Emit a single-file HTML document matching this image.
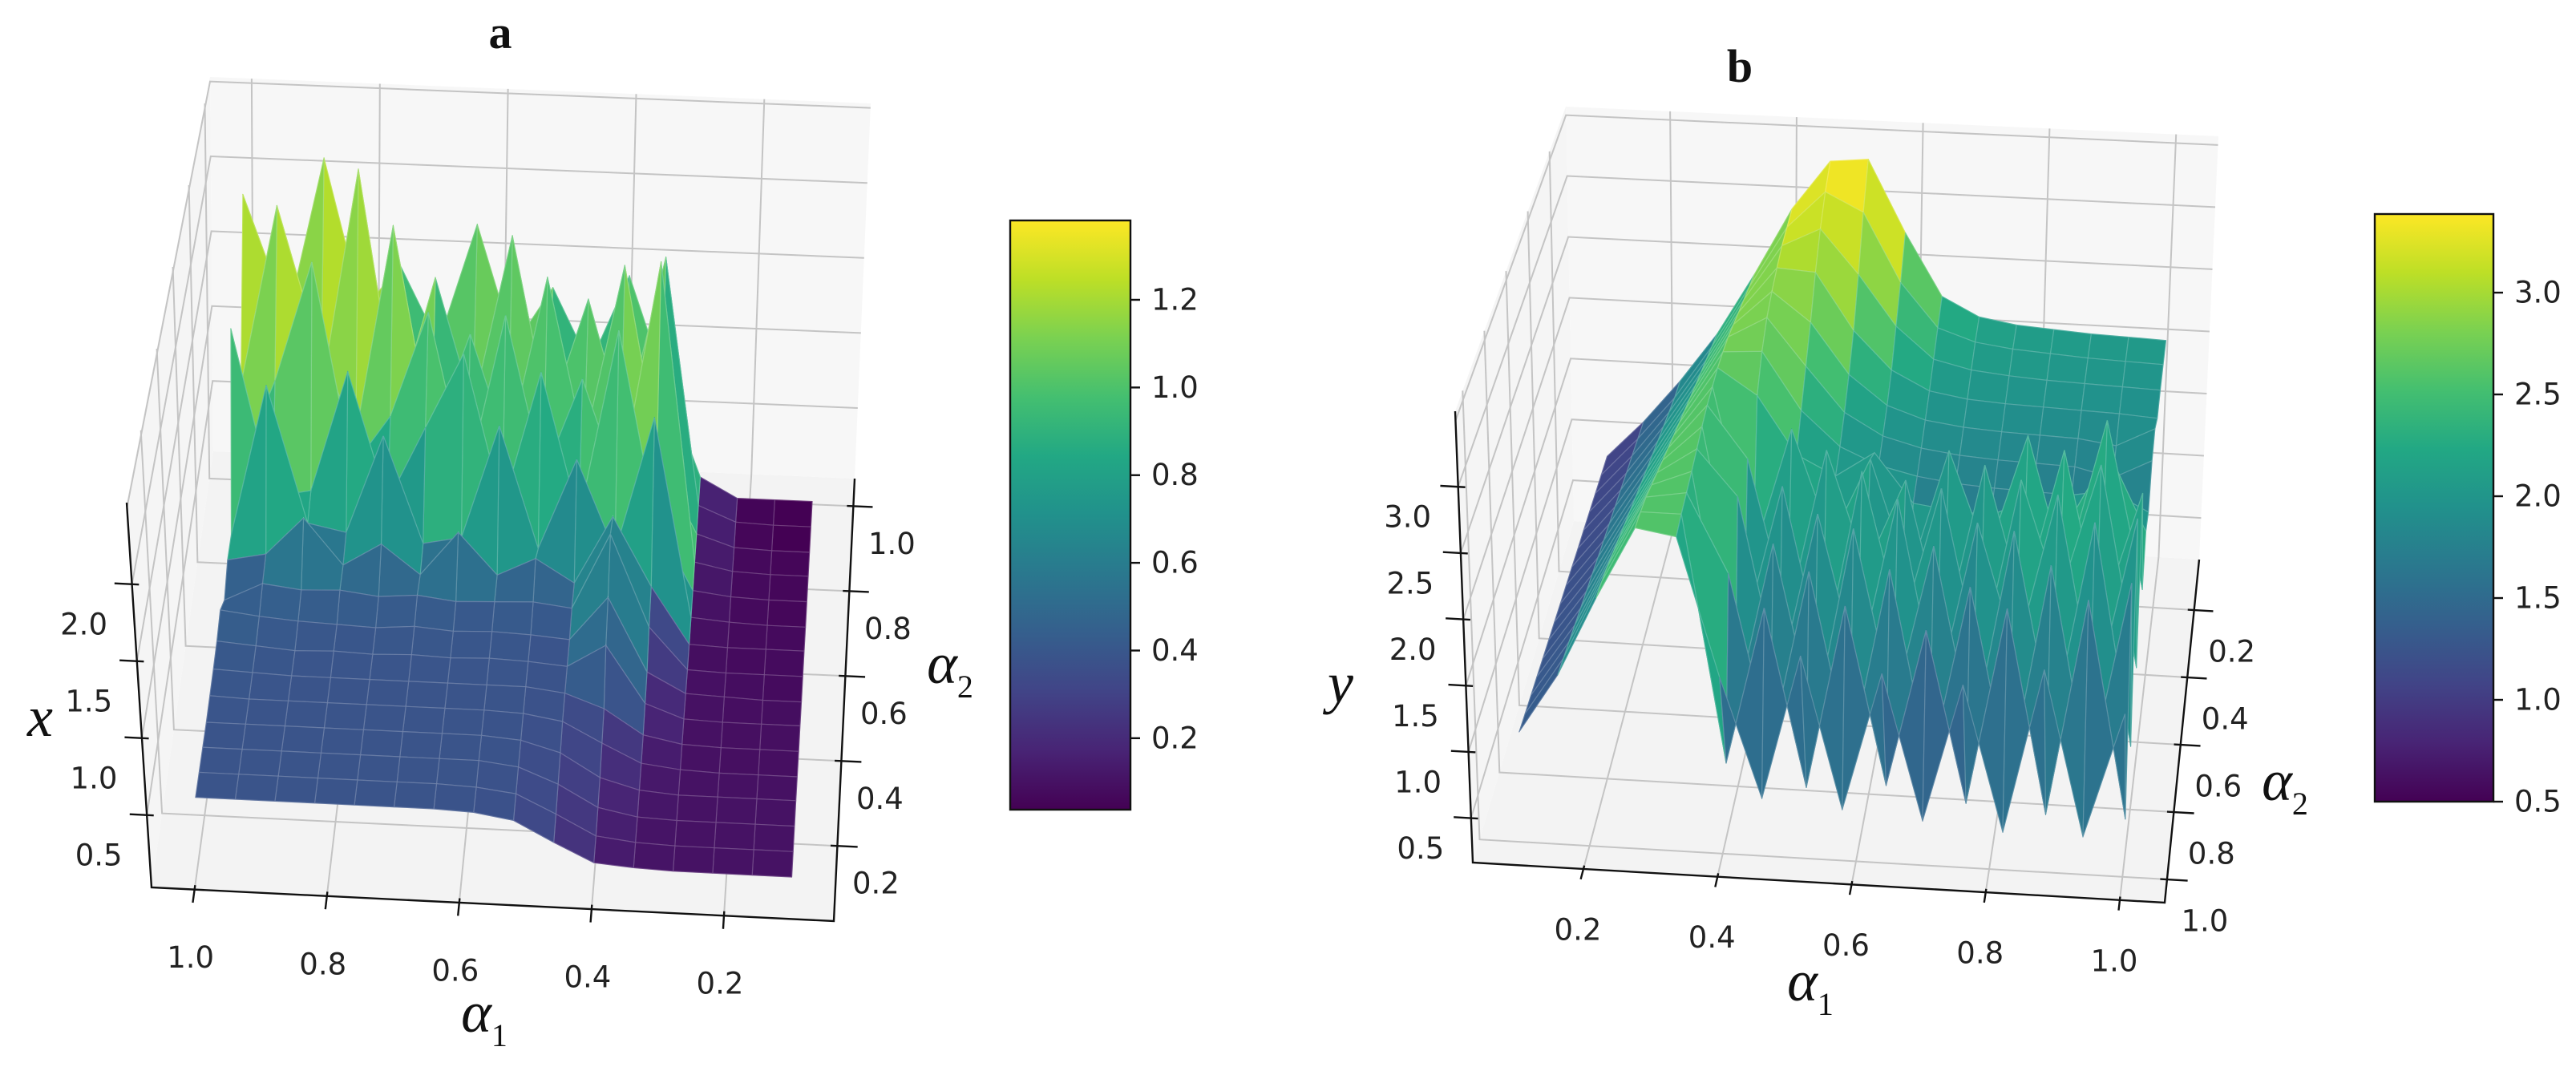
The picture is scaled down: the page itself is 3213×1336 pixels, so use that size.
<!DOCTYPE html>
<html><head><meta charset="utf-8"><style>
html,body{margin:0;padding:0;background:#fff;}
svg{display:block;}
text{font-family:"DejaVu Sans","Liberation Sans",sans-serif;}
.tk{font-size:37px;fill:#222;}
.lab{font-family:"Liberation Serif",serif;font-style:italic;fill:#111;}
.ttl{font-family:"Liberation Serif",serif;font-weight:bold;font-size:58px;fill:#111;}
</style></head><body>
<svg id="fig" width="3213" height="1336" viewBox="0 0 3213 1336" xmlns="http://www.w3.org/2000/svg">
<defs>
<linearGradient id="vir" x1="0" y1="1" x2="0" y2="0">
<stop offset="0" stop-color="#440154"/><stop offset="0.1" stop-color="#482475"/><stop offset="0.2" stop-color="#414487"/><stop offset="0.3" stop-color="#355f8d"/><stop offset="0.4" stop-color="#2a788e"/><stop offset="0.5" stop-color="#21918c"/><stop offset="0.6" stop-color="#22a884"/><stop offset="0.7" stop-color="#44bf70"/><stop offset="0.8" stop-color="#7ad151"/><stop offset="0.9" stop-color="#bddf26"/><stop offset="1" stop-color="#fde725"/>
</linearGradient>
</defs>
<g id="panelA"></g>
<g id="panelB"></g>
<text class="ttl" x="624" y="60" text-anchor="middle">a</text>
<text class="ttl" x="2170" y="102" text-anchor="middle">b</text>
</svg>
<script>
// ---------- data: panel a ----------
const alpha1GridA = [0.10,0.16,0.22,0.28,0.34,0.40,0.46,0.52,0.58,0.64,0.70,0.76,0.82,0.88,0.94,1.00];
const alpha2GridA = [0.10,0.16,0.22,0.28,0.34,0.40,0.46,0.52,0.58,0.64,0.70,0.76,0.82,0.88,0.94,1.00];
const surfaceA = [
[0.09,0.09,0.09,0.09,0.10,0.12,0.24,0.37,0.41,0.42,0.42,0.42,0.42,0.42,0.42,0.42],
[0.09,0.09,0.09,0.09,0.10,0.13,0.26,0.38,0.41,0.42,0.42,0.42,0.42,0.42,0.42,0.42],
[0.09,0.09,0.09,0.09,0.10,0.15,0.29,0.39,0.42,0.42,0.42,0.42,0.42,0.42,0.42,0.42],
[0.09,0.09,0.09,0.09,0.11,0.18,0.33,0.40,0.42,0.42,0.42,0.42,0.42,0.42,0.42,0.42],
[0.08,0.08,0.08,0.09,0.12,0.24,0.37,0.41,0.42,0.42,0.42,0.42,0.42,0.42,0.42,0.43],
[0.08,0.08,0.08,0.09,0.14,0.30,0.39,0.42,0.42,0.42,0.42,0.42,0.42,0.42,0.43,0.44],
[0.08,0.08,0.08,0.09,0.18,0.55,0.40,0.42,0.43,0.42,0.43,0.42,0.43,0.42,0.44,0.46],
[0.07,0.07,0.08,0.09,0.22,0.70,0.41,0.43,0.44,0.43,0.45,0.43,0.44,0.45,0.47,0.50],
[0.07,0.07,0.07,0.08,0.35,0.95,0.45,0.48,0.47,0.46,0.49,0.47,0.50,0.49,0.52,0.40],
[0.07,0.07,0.07,0.08,0.45,0.90,0.45,0.60,0.48,0.75,0.46,0.65,0.50,0.80,0.55,0.50],
[0.06,0.06,0.07,0.09,1.40,0.50,1.10,0.50,1.30,0.55,0.50,1.20,0.55,0.60,1.50,0.50],
[0.06,0.06,0.07,0.10,0.55,1.80,0.55,1.50,0.60,1.60,1.10,0.60,1.45,0.65,0.60,1.70],
[0.06,0.06,0.07,0.12,2.10,0.60,1.30,0.65,1.70,0.60,1.70,1.00,0.65,2.00,1.20,0.60],
[0.05,0.05,0.06,0.14,0.60,1.90,0.70,1.80,0.65,1.40,0.70,2.10,0.70,1.30,2.20,1.00],
[0.05,0.05,0.06,0.16,1.80,0.65,1.50,0.70,1.90,0.75,1.60,0.70,2.30,0.80,1.40,2.10],
[0.05,0.05,0.05,0.18,0.80,1.50,0.90,1.40,1.00,1.80,1.00,1.50,1.20,2.20,1.10,1.60]];
const alpha1TicksA = [1.0,0.8,0.6,0.4,0.2];
const alpha1LabelsA = ["1.0","0.8","0.6","0.4","0.2"];
const alpha2TicksA = [0.2,0.4,0.6,0.8,1.0];
const alpha2LabelsA = ["0.2","0.4","0.6","0.8","1.0"];
const zTicksA = [0.5,1.0,1.5,2.0,2.5];
const zLabelsA = ["0.5","1.0","1.5","2.0",""];
const cbarTicksA = [0.2,0.4,0.6,0.8,1.0,1.2];
const cbarLabelsA = ["0.2","0.4","0.6","0.8","1.0","1.2"];

// ---------- data: panel b ----------
const alpha1GridB = [0.10,0.16,0.22,0.28,0.34,0.40,0.46,0.52,0.58,0.64,0.70,0.76,0.82,0.88,0.94,1.00];
const alpha2GridB = [0.10,0.16,0.22,0.28,0.34,0.40,0.46,0.52,0.58,0.64,0.70,0.76,0.82,0.88,0.94,1.00];
const surfaceB = [
[0.85,1.15,1.50,1.90,2.40,2.95,3.35,3.38,2.80,2.30,2.15,2.10,2.08,2.06,2.05,2.04],
[0.86,1.17,1.52,1.95,2.45,2.95,3.25,3.10,2.55,2.20,2.10,2.06,2.04,2.02,2.01,2.00],
[0.87,1.19,1.56,2.00,2.50,2.95,3.10,2.75,2.35,2.10,2.03,2.00,1.98,1.97,1.96,1.95],
[0.88,1.21,1.60,2.05,2.55,2.92,2.90,2.45,2.15,2.00,1.95,1.93,1.92,1.91,1.90,1.88],
[0.89,1.23,1.64,2.10,2.60,2.88,2.65,2.25,2.02,1.92,1.88,1.86,1.85,1.84,1.80,1.95],
[0.90,1.25,1.68,2.15,2.65,2.82,2.45,2.10,1.93,1.85,1.81,1.79,1.78,1.77,1.70,1.85],
[0.91,1.27,1.72,2.20,2.68,2.70,2.25,1.98,1.85,1.78,1.74,1.72,1.71,1.70,1.75,1.60],
[0.92,1.29,1.76,2.25,2.70,2.50,2.05,1.90,2.10,1.72,1.68,1.66,1.80,1.64,2.20,1.60],
[0.93,1.31,1.80,2.30,2.70,1.40,2.40,1.55,2.20,1.30,2.30,1.50,2.45,1.40,2.60,1.30],
[0.94,1.33,1.84,2.35,2.70,2.30,1.10,2.40,1.50,2.20,1.00,2.35,1.30,2.50,1.20,2.20],
[0.95,1.35,1.88,2.40,2.68,1.10,2.25,0.90,2.40,1.20,2.30,0.95,2.40,1.50,2.55,1.00],
[0.96,1.37,1.92,2.45,2.65,2.30,0.90,2.20,1.00,2.35,0.85,2.20,1.20,2.45,0.90,2.30],
[0.97,1.39,1.96,2.50,2.62,0.80,2.10,0.75,2.25,0.90,2.15,0.70,2.30,0.80,2.40,0.70],
[0.98,1.41,2.00,2.55,2.60,2.00,0.70,2.05,0.65,2.10,0.60,2.00,0.55,2.20,0.60,2.10],
[0.99,1.43,2.03,2.58,2.58,0.70,1.90,0.55,1.95,0.60,1.80,0.50,2.00,0.45,2.10,0.45],
[1.00,1.45,2.05,2.60,2.55,1.50,0.60,1.70,0.55,1.60,0.50,1.55,0.45,1.70,0.45,1.40]];
const alpha1TicksB = [0.2,0.4,0.6,0.8,1.0];
const alpha1LabelsB = ["0.2","0.4","0.6","0.8","1.0"];
const alpha2TicksB = [0.2,0.4,0.6,0.8,1.0];
const alpha2LabelsB = ["0.2","0.4","0.6","0.8","1.0"];
const zTicksB = [0.5,1.0,1.5,2.0,2.5,3.0,3.5];
const zLabelsB = ["0.5","1.0","1.5","2.0","2.5","3.0",""];
const cbarTicksB = [0.5,1.0,1.5,2.0,2.5,3.0];
const cbarLabelsB = ["0.5","1.0","1.5","2.0","2.5","3.0"];

// ---------- helpers ----------
const NS = "http://www.w3.org/2000/svg";
const VIR = ["#440154","#482475","#414487","#355f8d","#2a788e","#21918c","#22a884","#44bf70","#7ad151","#bddf26","#fde725"];
function hex(h){return [parseInt(h.substr(1,2),16),parseInt(h.substr(3,2),16),parseInt(h.substr(5,2),16)];}
function viridis(t){
  t=Math.max(0,Math.min(1,t)); const s=t*10; const i=Math.min(9,Math.floor(s)); const f=s-i;
  const a=hex(VIR[i]), b=hex(VIR[i+1]);
  return "rgb("+a.map((x,k)=>Math.round(x+(b[k]-x)*f)).join(",")+")";
}
function el(tag, attrs, parent){
  const e=document.createElementNS(NS,tag);
  for(const k in attrs) e.setAttribute(k,attrs[k]);
  parent.appendChild(e); return e;
}
function mkProj(C){
  function bil(L,u,v){
    return [(1-u)*(1-v)*L[0][0]+u*(1-v)*L[1][0]+(1-u)*v*L[2][0]+u*v*L[3][0],
            (1-u)*(1-v)*L[0][1]+u*(1-v)*L[1][1]+(1-u)*v*L[2][1]+u*v*L[3][1]];
  }
  return function(u,v,w){
    const b=bil(C[0],u,v), t=bil(C[1],u,v);
    return [b[0]+(t[0]-b[0])*w, b[1]+(t[1]-b[1])*w];
  };
}
function pts(arr){return arr.map(p=>p[0].toFixed(1)+","+p[1].toFixed(1)).join(" ");}

function drawPanel(cfg){
  const g=cfg.g, P=cfg.P;
  let e;
  e=el("polygon",{points:pts([P(0,0,0),P(1,0,0),P(1,1,0),P(0,1,0)]),fill:"#f3f3f3"},g);
  
  
  e=el("polygon",{points:pts([P(0,1,0),P(1,1,0),P(1,1,1),P(0,1,1)]),fill:"#f7f7f7"},g);
  
  
  e=el("polygon",{points:pts([P(0,0,0),P(0,1,0),P(0,1,1),P(0,0,1)]),fill:"#f5f5f5"},g);
  
  
  const gg=el("g",{stroke:"#c4c4c4","stroke-width":2,fill:"none"},g);
  
  
  cfg.xTicks.forEach(t=>{const u=cfg.U(t);
    el("polyline",{points:pts([P(u,0,0),P(u,1,0),P(u,1,1)])},gg);});
  cfg.yTicks.forEach(t=>{const v=cfg.V(t);
    el("polyline",{points:pts([P(1,v,0),P(0,v,0),P(0,v,1)])},gg);});
  cfg.zTicks.forEach(t=>{const w=cfg.W(t);
    el("polyline",{points:pts([P(0,0,w),P(0,1,w),P(1,1,w)])},gg);});
  const X=cfg.xGrid, Y=cfg.yGrid, Z=cfg.Z;
  const quads=[];
  for(let r=0;r<Y.length-1;r++) for(let c=0;c<X.length-1;c++){
    const zs=[Z[r][c],Z[r][c+1],Z[r+1][c+1],Z[r+1][c]];
    const vv=[cfg.V(Y[r]),cfg.V(Y[r]),cfg.V(Y[r+1]),cfg.V(Y[r+1])];
    const uu=[cfg.U(X[c]),cfg.U(X[c+1]),cfg.U(X[c+1]),cfg.U(X[c])];
    const p=uu.map((u,k)=>P(u,vv[k],cfg.W(zs[k])));
    const depth=(vv[0]+vv[2])/2;
    const zm=((zs[0]+zs[1]+zs[2]+zs[3])/4+Math.max(...zs))/2;
    quads.push({p,depth,zm});
  }
  quads.sort((a,b)=>b.depth-a.depth);
  const sg=el("g",{},g);
  
  
  quads.forEach(q=>{
    const col=viridis(cfg.cnorm(q.zm));
    const poly=el("polygon",{points:pts(q.p),fill:col,stroke:col,"stroke-width":1,"stroke-linejoin":"round"},sg);
    
    
    const ln=el("polygon",{points:pts(q.p),fill:"none",stroke:"rgba(255,255,255,0.22)","stroke-width":1.2},sg);
    
    
  });
  const ag=el("g",{stroke:"#111","stroke-width":2.4,fill:"none"},g);
  
  
  el("polyline",{points:pts([P(0,0,1),P(0,0,0),P(1,0,0),P(1,1,0)])},ag);
  const tg=el("g",{},g);
  cfg.xTicks.forEach((t,i)=>{const u=cfg.U(t);
    el("line",{x1:P(u,0.01,0)[0],y1:P(u,0.01,0)[1],x2:P(u,-0.03,0)[0],y2:P(u,-0.03,0)[1],stroke:"#111","stroke-width":2.4},tg);
    const b=P(u,0,0);
    const tx=el("text",{class:"tk",x:b[0]+cfg.xOff[0],y:b[1]+cfg.xOff[1],"text-anchor":"middle","dominant-baseline":"central"},tg);
    tx.textContent=cfg.xLabels[i];
    
    
  });
  cfg.yTicks.forEach((t,i)=>{const v=cfg.V(t);
    el("line",{x1:P(0.99,v,0)[0],y1:P(0.99,v,0)[1],x2:P(1.03,v,0)[0],y2:P(1.03,v,0)[1],stroke:"#111","stroke-width":2.4},tg);
    const b=P(1,v,0);
    const tx=el("text",{class:"tk",x:b[0]+cfg.yOff[0],y:b[1]+cfg.yOff[1],"text-anchor":"middle","dominant-baseline":"central"},tg);
    tx.textContent=cfg.yLabels[i];
    
    
  });
  cfg.zTicks.forEach((t,i)=>{const w=cfg.W(t);
    if(!cfg.zLabels[i]) return;
    el("line",{x1:P(0.01,0,w)[0],y1:P(0.01,0,w)[1],x2:P(-0.025,0,w)[0],y2:P(-0.025,0,w)[1],stroke:"#111","stroke-width":2.4},tg);
    const b=P(0,0,w);
    const tx=el("text",{class:"tk",x:b[0]+cfg.zOff[0],y:b[1]+cfg.zOff[1],"text-anchor":"middle","dominant-baseline":"central"},tg);
    tx.textContent=cfg.zLabels[i];
    
    
  });
  const cb=cfg.cbar;
  const cg=el("g",{},g);
  
  
  el("rect",{x:cb.x,y:cb.y0,width:cb.w,height:cb.y1-cb.y0,fill:"url(#vir)",stroke:"#111","stroke-width":2.4},cg);
  const cy=v=>cb.y1-(v-cb.vmin)/(cb.vmax-cb.vmin)*(cb.y1-cb.y0);
  cfg.cTicks.forEach((t,i)=>{
    const y=cy(t);
    el("line",{x1:cb.x+cb.w,y1:y,x2:cb.x+cb.w+12,y2:y,stroke:"#111","stroke-width":2.4},cg);
    const tx=el("text",{class:"tk",x:cb.x+cb.w+26,y:y,"dominant-baseline":"central"},cg);
    tx.textContent=cfg.cLabels[i];
    
    
  });
}
function axisLabel(parent,name,x,y,main,sub,size){
  const t=el("text",{class:"lab",x:x,y:y,"font-size":size,"text-anchor":"middle"},parent);
  
  
  const a=el("tspan",{},t); a.textContent=main;
  if(sub){const s=el("tspan",{"font-size":Math.round(size*0.55),"font-style":"normal",dy:Math.round(size*0.25)},t); s.textContent=sub;}
}

const gA=document.getElementById("panelA"), gB=document.getElementById("panelB");
drawPanel({id:"panel-a", g:gA,
  P:mkProj([[[189,1107],[1040,1149],[266,563],[1066,597]],[[158,627],[1035,669],[262,96],[1086,129]]]),
  U:a=>(1.065-a)/1.031, V:a=>(a-0.023)/1.042, W:z=>(z-0.03)/2.5,
  xGrid:alpha1GridA, yGrid:alpha2GridA, Z:surfaceA,
  cnorm:z=>Math.pow(Math.max(0,Math.min(1,(z-0.05)/2.25)),0.75),
  xTicks:alpha1TicksA, xLabels:alpha1LabelsA, xOff:[-5,85],
  yTicks:alpha2TicksA, yLabels:alpha2LabelsA, yOff:[48,47],
  zTicks:zTicksA, zLabels:zLabelsA, zOff:[-60,50],
  cTicks:cbarTicksA, cLabels:cbarLabelsA,
  cbar:{x:1260,w:150,y0:275,y1:1010,vmin:0.037,vmax:1.381}});
drawPanel({id:"panel-b", g:gB,
  P:mkProj([[[1837,1076],[2700,1126],[1963,650],[2743,698]],[[1815,513],[2710,563],[1953,133],[2767,170]]]),
  U:a=>(a-0.035)/1.032, V:a=>(1.069-a)/1.019, W:z=>(z-0.165)/3.405,
  xGrid:alpha1GridB, yGrid:alpha2GridB, Z:surfaceB,
  cnorm:z=>(z-0.5)/2.886,
  xTicks:alpha1TicksB, xLabels:alpha1LabelsB, xOff:[-7,76],
  yTicks:alpha2TicksB, yLabels:alpha2LabelsB, yOff:[47,52],
  zTicks:zTicksB, zLabels:zLabelsB, zOff:[-63,38],
  cTicks:cbarTicksB, cLabels:cbarLabelsB,
  cbar:{x:2962,w:148,y0:267,y1:1000,vmin:0.5,vmax:3.386}});
const fig=document.getElementById("fig");
axisLabel(fig,"panel-a-alpha1-label",604,1287,"α","1",72);
axisLabel(fig,"panel-a-alpha2-label",1185,852,"α","2",72);
axisLabel(fig,"panel-a-z-label",50,918,"x","",72);
axisLabel(fig,"panel-b-alpha1-label",2258,1248,"α","1",72);
axisLabel(fig,"panel-b-alpha2-label",2850,998,"α","2",72);
axisLabel(fig,"panel-b-z-label",1672,876,"y","",72);
</script>
</body></html>
